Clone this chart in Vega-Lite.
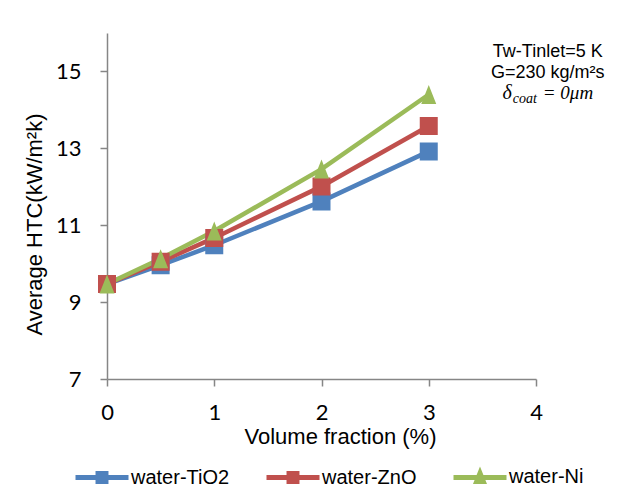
{
  "$schema": "https://vega.github.io/schema/vega-lite/v6.json",
  "width": 429,
  "height": 346,
  "autosize": {"type": "none"},
  "padding": {"left": 107, "top": 33, "right": 107, "bottom": 118},
  "background": "white",
  "config": {"view": {"stroke": null}, "font": "Liberation Sans"},
  "datasets": {
    "htc": [
      {"fraction": 0, "htc": 9.47, "fluid": "water-TiO2"},
      {"fraction": 0.5, "htc": 9.96, "fluid": "water-TiO2"},
      {"fraction": 1, "htc": 10.48, "fluid": "water-TiO2"},
      {"fraction": 2, "htc": 11.62, "fluid": "water-TiO2"},
      {"fraction": 3, "htc": 12.92, "fluid": "water-TiO2"},
      {"fraction": 0, "htc": 9.47, "fluid": "water-ZnO"},
      {"fraction": 0.5, "htc": 10.05, "fluid": "water-ZnO"},
      {"fraction": 1, "htc": 10.67, "fluid": "water-ZnO"},
      {"fraction": 2, "htc": 12.01, "fluid": "water-ZnO"},
      {"fraction": 3, "htc": 13.58, "fluid": "water-ZnO"},
      {"fraction": 0, "htc": 9.47, "fluid": "water-Ni"},
      {"fraction": 0.5, "htc": 10.13, "fluid": "water-Ni"},
      {"fraction": 1, "htc": 10.85, "fluid": "water-Ni"},
      {"fraction": 2, "htc": 12.46, "fluid": "water-Ni"},
      {"fraction": 3, "htc": 14.4, "fluid": "water-Ni"}
    ],
    "notes": [
      {"text": "Tw-Tinlet=5 K", "fraction": 4.11, "htc": 15.38},
      {"text": "G=230 kg/m²s", "fraction": 4.11, "htc": 14.83}
    ],
    "math": [
      {"fraction": 4.11, "htc": 14.28}
    ]
  },
  "encoding": {
    "x": {
      "field": "fraction",
      "type": "quantitative",
      "scale": {"domain": [0, 4], "nice": false, "zero": false},
      "axis": {
        "values": [0, 1, 2, 3, 4],
        "labelFlush": false,
        "title": "Volume fraction (%)",
        "titleFont": "Liberation Sans",
        "titleFontSize": 22,
        "titleFontWeight": "normal",
        "titleColor": "black",
        "titleX": 233,
        "titleY": 64,
        "titleBaseline": "alphabetic",
        "labelFont": "Lato",
        "labelFontSize": 22,
        "labelColor": "black",
        "labelPadding": 16,
        "tickSize": 7,
        "tickWidth": 1.5,
        "tickColor": "#868686",
        "domainColor": "#868686",
        "domainWidth": 1.5,
        "grid": false
      }
    },
    "y": {
      "field": "htc",
      "type": "quantitative",
      "scale": {"domain": [7, 16], "nice": false, "zero": false},
      "axis": {
        "values": [7, 9, 11, 13, 15],
        "labelFlush": false,
        "title": "Average HTC(kW/m²k)",
        "titleFont": "Liberation Sans",
        "titleFontSize": 22,
        "titleFontWeight": "normal",
        "titleColor": "black",
        "titleX": -66,
        "titleY": 191,
        "titleBaseline": "alphabetic",
        "labelFont": "Lato",
        "labelFontSize": 22,
        "labelColor": "black",
        "labelPadding": 19,
        "tickSize": 7,
        "tickWidth": 1.5,
        "tickColor": "#868686",
        "domainColor": "#868686",
        "domainWidth": 1.5,
        "grid": false
      }
    }
  },
  "layer": [
    {
      "data": {"name": "htc"},
      "mark": {"type": "line", "strokeWidth": 4.5},
      "encoding": {
        "color": {
          "field": "fluid",
          "type": "nominal",
          "scale": {
            "domain": ["water-TiO2", "water-ZnO", "water-Ni"],
            "range": ["#4F81BD", "#C0504D", "#9BBB59"]
          },
          "legend": {
            "title": null,
            "orient": "none",
            "legendX": -34,
            "legendY": 415,
            "direction": "horizontal",
            "columns": 3,
            "columnPadding": 26,
            "labelFont": "Liberation Sans",
            "labelFontSize": 20,
            "labelColor": "black",
            "labelOffset": 0,
            "symbolSize": 2809,
            "padding": 0,
            "encode": {
              "symbols": {
                "update": {
                  "stroke": {"scale": "color", "field": "value"},
                  "strokeWidth": {"value": 5},
                  "fill": {"scale": "color", "field": "value"},
                  "opacity": {"value": 1}
                }
              }
            }
          }
        }
      }
    },
    {
      "data": {"name": "htc"},
      "mark": {"type": "point", "filled": true, "opacity": 1, "size": 14400, "strokeWidth": 0},
      "encoding": {
        "color": {
          "field": "fluid",
          "type": "nominal",
          "scale": {
            "domain": ["water-TiO2", "water-ZnO", "water-Ni"],
            "range": ["#4F81BD", "#C0504D", "#9BBB59"]
          },
          "legend": {
            "title": null,
            "orient": "none",
            "legendX": -34,
            "legendY": 415,
            "direction": "horizontal",
            "columns": 3,
            "columnPadding": 26,
            "labelFont": "Liberation Sans",
            "labelFontSize": 20,
            "labelColor": "black",
            "labelOffset": 0,
            "symbolSize": 2809,
            "padding": 0,
            "encode": {
              "symbols": {
                "update": {
                  "stroke": {"scale": "color", "field": "value"},
                  "strokeWidth": {"value": 5},
                  "fill": {"scale": "color", "field": "value"},
                  "opacity": {"value": 1}
                }
              }
            }
          }
        },
        "shape": {
          "field": "fluid",
          "type": "nominal",
          "scale": {
            "domain": ["water-TiO2", "water-ZnO", "water-Ni"],
            "range": [
              "M-1,0H1M-0.15,-0.15H0.15V0.15H-0.15Z",
              "M-1,0H1M-0.15,-0.15H0.15V0.15H-0.15Z",
              "M-1,0H1M0,-0.158L0.125,0.158H-0.125Z"
            ]
          },
          "legend": {
            "title": null,
            "orient": "none",
            "legendX": -34,
            "legendY": 415,
            "direction": "horizontal",
            "columns": 3,
            "columnPadding": 26,
            "labelFont": "Liberation Sans",
            "labelFontSize": 20,
            "labelColor": "black",
            "labelOffset": 0,
            "symbolSize": 2809,
            "padding": 0,
            "encode": {
              "symbols": {
                "update": {
                  "stroke": {"scale": "color", "field": "value"},
                  "strokeWidth": {"value": 5},
                  "fill": {"scale": "color", "field": "value"},
                  "opacity": {"value": 1}
                }
              }
            }
          }
        }
      }
    },
    {
      "data": {"name": "notes"},
      "mark": {"type": "text", "font": "Liberation Sans", "fontSize": 18, "align": "center", "baseline": "alphabetic", "color": "black"},
      "encoding": {"text": {"field": "text", "type": "nominal"}}
    },
    {
      "data": {"name": "math"},
      "mark": {"type": "text", "text": "δ", "font": "Liberation Serif", "fontStyle": "italic", "fontSize": 20, "align": "right", "baseline": "alphabetic", "dx": -36, "color": "black"},
      "encoding": {}
    },
    {
      "data": {"name": "math"},
      "mark": {"type": "text", "text": "coat", "font": "Liberation Serif", "fontStyle": "italic", "fontSize": 14, "align": "left", "baseline": "alphabetic", "dx": -35, "dy": 4, "color": "black"},
      "encoding": {}
    },
    {
      "data": {"name": "math"},
      "mark": {"type": "text", "text": "= 0μm", "font": "Liberation Serif", "fontStyle": "italic", "fontSize": 19, "align": "left", "baseline": "alphabetic", "dx": -5, "color": "black"},
      "encoding": {}
    }
  ]
}
